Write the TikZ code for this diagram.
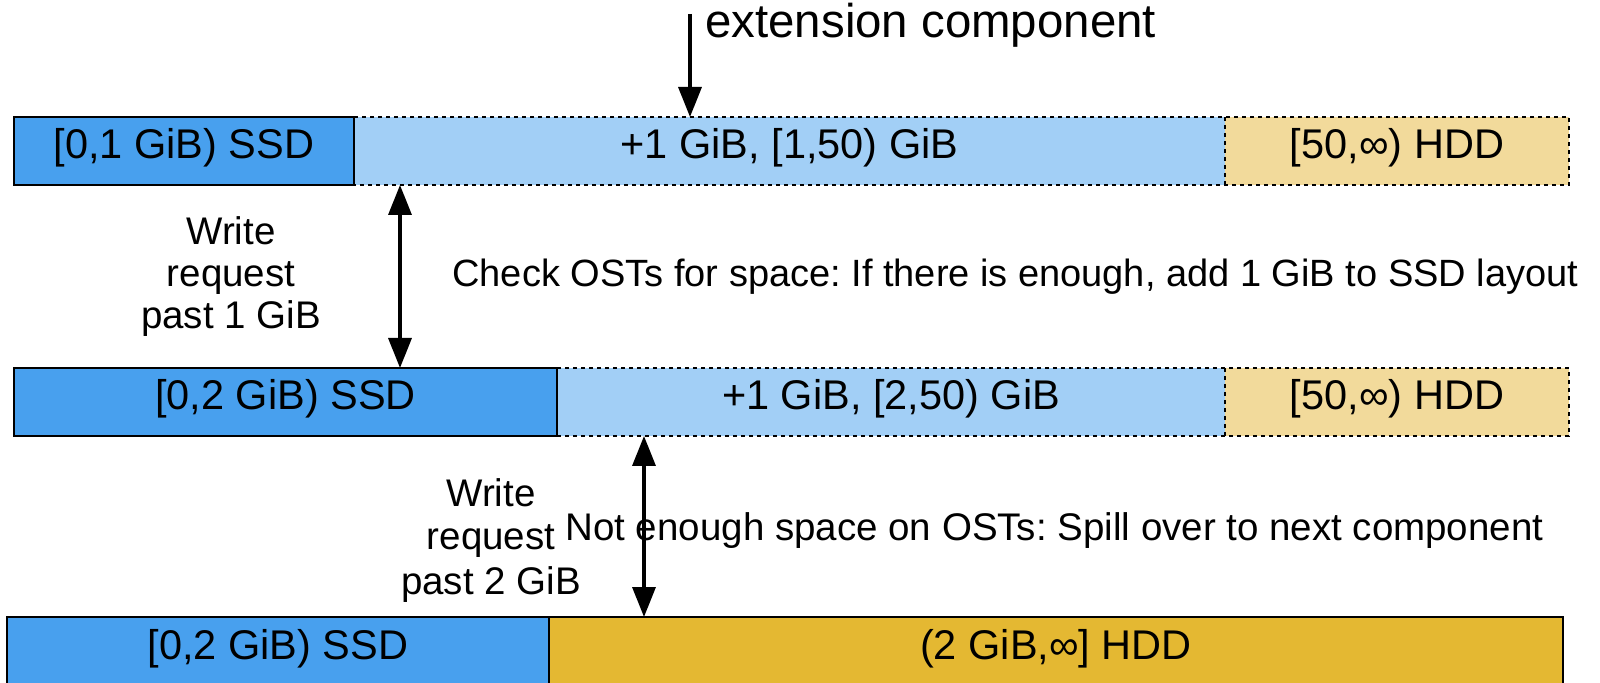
\documentclass[tikz,border=0pt]{standalone}
\usepackage{fontspec}
\setmainfont{Liberation Sans}
\usetikzlibrary{arrows.meta}
\definecolor{ssdblue}{HTML}{48A0EE}
\definecolor{extblue}{HTML}{A2CFF6}
\definecolor{hddtan}{HTML}{F2DA9B}
\definecolor{hddgold}{HTML}{E4B832}
\frenchspacing
\begin{document}
\begin{tikzpicture}[x=0.5pt,y=-0.5pt,
  fillbox/.style={rectangle, anchor=north west, inner sep=0pt, outer sep=0pt,
    text height=0.72em, text depth=0pt,
    font=\fontsize{20.75}{24}\selectfont, minimum height=34pt},
  solidline/.style={draw=black, line width=1pt},
  dotline/.style={draw=black, line width=1.2pt, dash pattern=on 2pt off 2pt},
  body/.style={inner sep=0pt, font=\fontsize{19.25}{22}\selectfont},
  arrowline/.style={draw=black, line width=1.7pt},
  tip/.style={-{Triangle[length=15pt,width=11.5pt]}},
  tips/.style={{Triangle[length=15pt,width=11.5pt]}-{Triangle[length=15pt,width=11.5pt]}}
]
\clip (0,0) rectangle (1600,683);
\fill[white] (0,0) rectangle (1600,683);

% Row 1
\node[fillbox, fill=ssdblue, minimum width=170pt] (s1) at (14,117) {[0,1 GiB) SSD};
\node[fillbox, fill=extblue, minimum width=435.5pt] (b1) at (354,117) {+1 GiB, [1,50) GiB};
\node[fillbox, fill=hddtan, minimum width=172pt] (h1) at (1225,117) {[50,∞) HDD};
\draw[dotline] (s1.north east) -- (h1.north east) -- (h1.south east) -- (s1.south east);
\draw[dotline] (b1.north east) -- (b1.south east);
\draw[solidline] (s1.north west) rectangle (s1.south east);

% Row 2
\node[fillbox, fill=ssdblue, minimum width=271.5pt] (s2) at (14,368) {[0,2 GiB) SSD};
\node[fillbox, fill=extblue, minimum width=334pt] (b2) at (557,368) {+1 GiB, [2,50) GiB};
\node[fillbox, fill=hddtan, minimum width=172pt] (h2) at (1225,368) {[50,∞) HDD};
\draw[dotline] (s2.north east) -- (h2.north east) -- (h2.south east) -- (s2.south east);
\draw[dotline] (b2.north east) -- (b2.south east);
\draw[solidline] (s2.north west) rectangle (s2.south east);

% Row 3
\node[fillbox, fill=ssdblue, minimum width=271pt, minimum height=35pt] (s3) at (7,617) {[0,2 GiB) SSD};
\node[fillbox, fill=hddgold, minimum width=507pt, minimum height=35pt] (g3) at (549,617) {(2 GiB,∞] HDD};
\draw[solidline] (s3.north west) rectangle (s3.south east);
\draw[solidline] (g3.north west) rectangle (g3.south east);

% Texts
\node[inner sep=0pt, anchor=base west, font=\fontsize{23.7}{26}\selectfont] (ext) at (705,37.5) {extension component};
\node[body, anchor=base] (w1a) at (231,245) {Write};
\node[body, anchor=base] (w1b) at (231,287) {request};
\node[body, anchor=base] (w1c) at (231,329) {past 1 GiB};
\node[body, anchor=base west, font=\fontsize{19}{22}\selectfont] (chk) at (452,287) {Check OSTs for space: If there is enough, add 1 GiB to SSD layout};
\node[body, anchor=base] (w2a) at (491,507) {Write};
\node[body, anchor=base] (w2b) at (491,550) {request};
\node[body, anchor=base] (w2c) at (491,594) {past 2 GiB};
\node[body, anchor=base west] (spill) at (565,540) {Not enough space on OSTs: Spill over to next component};

% Arrows
\coordinate (extTop) at (690,14);
\coordinate (a1) at (400,0);
\coordinate (a2) at (644,0);
\draw[arrowline, tip] (extTop) -- (extTop |- b1.north);
\draw[arrowline, tips] (a1 |- b1.south) -- (a1 |- s2.north);
\draw[arrowline, tips] (a2 |- b2.south) -- (a2 |- g3.north);
\end{tikzpicture}
\end{document}
